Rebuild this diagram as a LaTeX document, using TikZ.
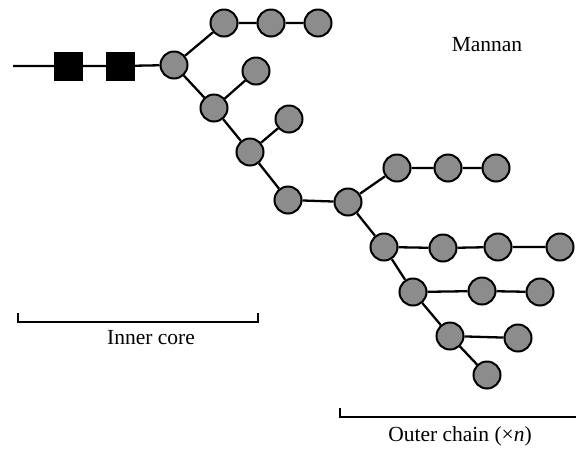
\documentclass[tikz,border=0pt]{standalone}
\usepackage{fontspec}
\setmainfont{Liberation Serif}
\begin{document}
\begin{tikzpicture}[x=1pt,y=-1pt,
  sugar/.style={circle,draw=black,line width=2pt,fill=black!45,minimum size=27pt,inner sep=0pt},
  glcnac/.style={rectangle,fill=black,draw=black,minimum size=28pt,inner sep=0pt},
  bond/.style={line width=2.3pt},
  brk/.style={line width=1.6pt},
  lbl/.style={font=\fontsize{21.5pt}{24pt}\selectfont,inner sep=0pt}]
\useasboundingbox (0,0) rectangle (576,451);
% backbone
\coordinate (start) at (13,66);
\node[glcnac] (s1) at (68,66) {};
\node[glcnac] (s2) at (120,66) {};
\node[sugar] (a) at (174,65) {};
\node[sugar] (t1) at (224,23) {};
\node[sugar] (t2) at (271,23) {};
\node[sugar] (t3) at (318,23) {};
\node[sugar] (b) at (214,108) {};
\node[sugar] (bs) at (256,71) {};
\node[sugar] (c) at (250,152) {};
\node[sugar] (cs) at (289,119) {};
\node[sugar] (d) at (288,200) {};
\node[sugar] (e) at (348,202) {};
\node[sugar] (u1) at (397,168) {};
\node[sugar] (u2) at (448,168) {};
\node[sugar] (u3) at (496,168) {};
\node[sugar] (f) at (384,247) {};
\node[sugar] (f1) at (443,248) {};
\node[sugar] (f2) at (498,247) {};
\node[sugar] (f3) at (560,247) {};
\node[sugar] (g) at (413,292) {};
\node[sugar] (g1) at (482,291) {};
\node[sugar] (g2) at (540,292) {};
\node[sugar] (h) at (450,336) {};
\node[sugar] (h1) at (518,338) {};
\node[sugar] (i) at (487,375) {};
\draw[bond] (start) -- (s1) -- (s2) -- (a);
\draw[bond] (a) -- (t1) -- (t2) -- (t3);
\draw[bond] (a) -- (b) -- (bs);
\draw[bond] (b) -- (c) -- (cs);
\draw[bond] (c) -- (d) -- (e);
\draw[bond] (e) -- (u1) -- (u2) -- (u3);
\draw[bond] (e) -- (f) -- (f1) -- (f2) -- (f3);
\draw[bond] (f) -- (g) -- (g1) -- (g2);
\draw[bond] (g) -- (h) -- (h1);
\draw[bond] (h) -- (i);
% labels
\node[lbl] (mannan) at (487,45) {Mannan};
\coordinate (ic1) at (18,313);
\coordinate (ic2) at (258,313);
\draw[brk] (ic1) -- ++(0,9) -- ++(240,0) -- (ic2);
\node[lbl] (inner) at (151,338) {Inner core};
\coordinate (oc1) at (340,408);
\coordinate (oc2) at (576,417);
\draw[brk] (oc1) -- (340,417) -- (oc2);
\node[lbl] (outer) at (460,436) {Outer chain (×\textit{n})};
\end{tikzpicture}
\end{document}
